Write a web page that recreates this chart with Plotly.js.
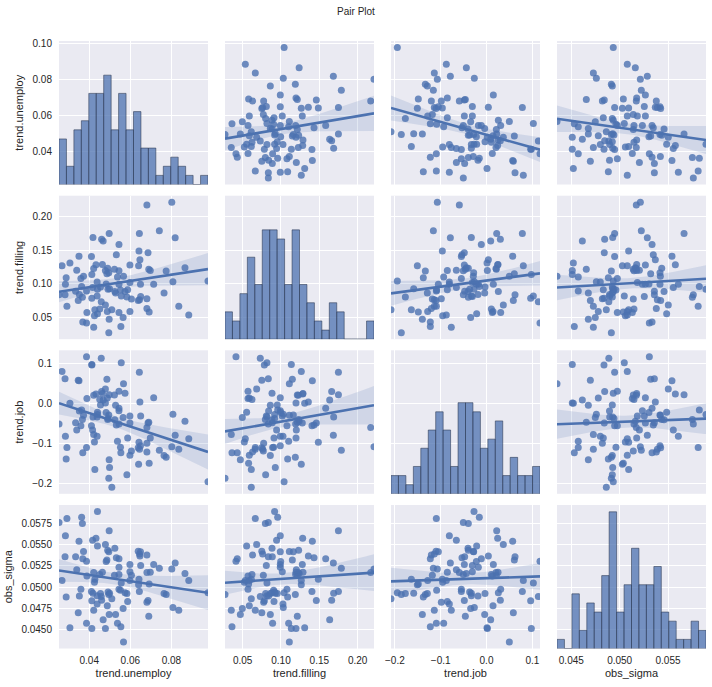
<!DOCTYPE html>
<html>
<head>
<meta charset="utf-8">
<script src="https://cdn.plot.ly/plotly-3.0.1.min.js"></script>
<style>
html,body{margin:0;padding:0;background:#ffffff;}
#chart{width:712px;height:687px;}
</style>
</head>
<body>
<div id="chart"></div>
<script>
// ---------------- data ----------------
const variables = ["trend.unemploy", "trend.filling", "trend.job", "obs_sigma"];

const trendUnemploy = [
0.09780,0.08844,0.08660,0.08358,0.08183,0.08073,0.08018,0.07743,0.07642,0.07412,
0.07137,0.06972,0.06917,0.06898,0.06862,0.06807,0.06440,0.06421,0.06467,0.06403,
0.06495,0.06504,0.06807,0.06449,0.06385,0.06807,0.06054,0.05981,0.05981,0.05981,
0.05871,0.05834,0.05742,0.05669,0.05650,0.05559,0.05540,0.05522,0.05448,0.05448,
0.05448,0.05448,0.05375,0.05320,0.05283,0.05228,0.05100,0.04990,0.04971,0.04971,
0.04953,0.04953,0.04898,0.04880,0.04861,0.04788,0.04788,0.04678,0.04641,0.04604,
0.04586,0.04549,0.04402,0.04402,0.04384,0.04329,0.04274,0.04255,0.04219,0.04219,
0.04164,0.04127,0.04127,0.04109,0.04384,0.03888,0.03870,0.03870,0.03723,0.03687,
0.03668,0.03631,0.03595,0.03521,0.03503,0.03466,0.03393,0.03338,0.03062,0.02916,
0.02879,0.02842,0.02824,0.02677,0.02530,0.05247,0.04916,0.04824,0.04512,0.04182
];

const trendFilling = [
0.1041,0.0535,0.1237,0.0665,0.1683,0.1030,0.2213,0.1187,0.0861,0.1787,
0.0991,0.1196,0.0578,0.1213,0.1461,0.2170,0.1749,0.1487,0.1357,0.1265,
0.0991,0.0809,0.0774,0.0761,0.0750,0.0630,0.0770,0.0587,0.1017,0.1278,
0.0909,0.0800,0.0883,0.1109,0.0496,0.0817,0.0361,0.0904,0.0570,0.0991,
0.1191,0.1583,0.1100,0.1431,0.0861,0.1213,0.0613,0.0926,0.0470,0.1749,
0.0270,0.1161,0.1230,0.0587,0.1148,0.0683,0.1196,0.1635,0.1287,0.1661,
0.0730,0.0952,0.0917,0.0552,0.1026,0.1283,0.0613,0.0522,0.0352,0.1226,
0.0943,0.0783,0.1135,0.1404,0.0817,0.0570,0.0413,0.0891,0.1109,0.0430,
0.0796,0.0957,0.1078,0.0839,0.1409,0.0750,0.1200,0.0887,0.1309,0.0665,
0.1087,0.0991,0.0835,0.1265,0.0835,0.0883,0.0917,0.0996,0.0622,0.1687
];

const trendJob = [
-0.1946,-0.0877,-0.0440,-0.1139,-0.0789,-0.0266,-0.1073,-0.1335,-0.1291,-0.1160,
0.0149,-0.0855,-0.1488,-0.0462,-0.0484,-0.0593,0.0782,-0.0964,0.0040,-0.1509,
-0.1051,-0.0309,-0.0986,-0.1139,-0.1102,-0.1204,-0.1182,-0.1284,-0.0309,-0.0484,
-0.0855,-0.1771,0.0258,0.0498,-0.0346,0.1022,-0.1226,-0.1088,0.0309,-0.0178,
-0.0506,-0.0113,-0.0935,-0.0535,-0.0040,0.0214,-0.2084,-0.1589,-0.1400,0.0222,
-0.1859,-0.0280,-0.0397,0.0142,0.0607,0.0367,0.0018,0.0091,0.0251,0.0302,
0.1131,-0.0033,-0.0273,-0.0215,-0.0811,0.0243,-0.1640,-0.0957,-0.0768,0.0207,
-0.0658,0.0963,0.0978,-0.0549,-0.0331,0.0127,0.1167,-0.1095,-0.0288,-0.1226,
-0.0397,-0.0157,-0.0549,-0.0186,0.0571,0.0585,-0.0658,-0.0477,0.0011,-0.1095,
-0.1379,-0.0811,0.0622,0.0803,-0.0506,-0.0404,-0.0368,-0.0222,0.0105,-0.0331
];

const obsSigma = [
0.04934,0.05079,0.05162,0.04728,0.05286,0.04759,0.05214,0.04914,0.04924,0.05224,
0.05266,0.05176,0.05038,0.04655,0.04841,0.05172,0.04948,0.05093,0.05369,0.05028,
0.05417,0.05255,0.04821,0.05390,0.05424,0.05379,0.05141,0.05079,0.05183,0.05266,
0.04831,0.04924,0.04934,0.04352,0.04748,0.05048,0.04531,0.04962,0.04976,0.05235,
0.05148,0.05335,0.04572,0.05348,0.04676,0.05141,0.04862,0.04928,0.04676,0.05666,
0.04914,0.05417,0.05435,0.04779,0.05321,0.05503,0.04510,0.04614,0.05176,0.04845,
0.04888,0.04924,0.05893,0.05486,0.04800,0.05576,0.05093,0.05059,0.04728,0.05172,
0.05555,0.04838,0.04510,0.04948,0.04897,0.05131,0.05307,0.04572,0.05421,0.05335,
0.05752,0.05824,0.04976,0.04895,0.05541,0.04697,0.05204,0.05359,0.04521,0.05812,
0.04883,0.05607,0.05359,0.05079,0.05762,0.05459,0.04941,0.05303,0.05148,0.04928
];

// tick values and labels
const xTickVals = [[0.04,0.06,0.08],[0.05,0.10,0.15,0.20],[-0.2,-0.1,0.0,0.1],[0.045,0.050,0.055]];
const xTickText = [["0.04","0.06","0.08"],["0.05","0.10","0.15","0.20"],["\u22120.2","\u22120.1","0.0","0.1"],["0.045","0.050","0.055"]];
const yTickVals = [[0.04,0.06,0.08,0.10],[0.05,0.10,0.15,0.20],[-0.2,-0.1,0.0,0.1],[0.0450,0.0475,0.0500,0.0525,0.0550,0.0575]];
const yTickText = [["0.04","0.06","0.08","0.10"],["0.05","0.10","0.15","0.20"],["\u22120.2","\u22120.1","0.0","0.1"],["0.0450","0.0475","0.0500","0.0525","0.0550","0.0575"]];
const nBins = 20;

// ---------------- layout geometry & style ----------------
const W = 712, H = 687;
const colLeft = [59, 225, 391, 557], panelW = 149;
const rowTop = [41, 195.7, 350.3, 505], panelH = 143.5;
const fontFamily = "Liberation Sans, Arial, Helvetica, sans-serif";
const textColor = "#262626";
const pointColor = "rgba(76,114,176,0.8)";
const lineColor = "#4C72B0";
const bandColor = "rgba(76,114,176,0.16)";
const barColor = "rgba(76,114,176,0.75)";
const barEdge = "rgba(40,52,78,0.55)";

const cols = [trendUnemploy, trendFilling, trendJob, obsSigma];
const mins = cols.map(a => Math.min(...a));
const maxs = cols.map(a => Math.max(...a));

function mean(a){ return a.reduce((s,v)=>s+v,0)/a.length; }

function histogram(a, lo, hi){
  const w = (hi - lo) / nBins;
  const counts = new Array(nBins).fill(0);
  a.forEach(v => { let i = Math.floor((v - lo) / w); if (i >= nBins) i = nBins - 1; if (i < 0) i = 0; counts[i]++; });
  const centers = counts.map((_, i) => lo + w * (i + 0.5));
  return {counts, centers, w};
}

function regression(x, y, lo, hi){
  const n = x.length, mx = mean(x), my = mean(y);
  let sxx = 0, sxy = 0;
  for (let i = 0; i < n; i++){ sxx += (x[i]-mx)*(x[i]-mx); sxy += (x[i]-mx)*(y[i]-my); }
  const b = sxy / sxx, a = my - b * mx;
  let sse = 0;
  for (let i = 0; i < n; i++){ const r = y[i] - (a + b*x[i]); sse += r*r; }
  const s = Math.sqrt(sse / (n - 2));
  const t = 1.984;
  const xs = [], yh = [], up = [], dn = [];
  for (let k = 0; k < 100; k++){
    const xv = lo + (hi - lo) * k / 99;
    const yv = a + b * xv;
    const se = s * Math.sqrt(1/n + (xv-mx)*(xv-mx)/sxx);
    xs.push(xv); yh.push(yv); up.push(yv + t*se); dn.push(yv - t*se);
  }
  return {xs, yh, up, dn};
}

const hists = cols.map((a, i) => histogram(a, mins[i], maxs[i]));
const maxCount = Math.max(...hists.map(h => Math.max(...h.counts)));
const diagTop = maxCount * 1.05;

const traces = [];
const layout = {
  width: W, height: H,
  margin: {l: 0, r: 0, t: 0, b: 0},
  paper_bgcolor: "#ffffff",
  plot_bgcolor: "#EAEAF2",
  showlegend: false,
  font: {family: fontFamily, color: textColor, size: 10},
  title: {text: "Pair Plot", font: {family: fontFamily, size: 10, color: textColor},
          x: 0.5, xanchor: "center", y: 1 - 11/H, yanchor: "middle"}
};

for (let r = 0; r < 4; r++){
  for (let c = 0; c < 4; c++){
    const p = r * 4 + c + 1;
    const sfx = p === 1 ? "" : String(p);
    const xa = "x" + sfx, ya = "y" + sfx;
    const padY = 0.05 * (maxs[r] - mins[r]);
    const yLo = mins[r] - padY, yHi = maxs[r] + padY;
    layout["xaxis" + sfx] = {
      domain: [colLeft[c] / W, (colLeft[c] + panelW) / W],
      anchor: ya,
      range: [mins[c], maxs[c]],
      tickmode: "array", tickvals: xTickVals[c], ticktext: xTickText[c],
      showticklabels: r === 3,
      ticks: "", ticklabelstandoff: 4,
      tickfont: {size: 10, color: textColor, family: fontFamily},
      showgrid: true, gridcolor: "#ffffff", gridwidth: 1,
      zeroline: false, showline: false, automargin: false,
      title: r === 3 ? {text: variables[c], font: {size: 11, color: textColor, family: fontFamily}, standoff: 4} : {text: ""}
    };
    // diagonal panels: the y axis counts the histogram, its grid lines sit where the row variable's ticks are
    const isDiag = r === c;
    const yTickPos = isDiag
      ? yTickVals[r].map(v => (v - yLo) / (yHi - yLo) * diagTop)
      : yTickVals[r];
    layout["yaxis" + sfx] = {
      domain: [1 - (rowTop[r] + panelH) / H, 1 - rowTop[r] / H],
      anchor: xa,
      range: isDiag ? [0, diagTop] : [yLo, yHi],
      tickmode: "array", tickvals: yTickPos, ticktext: yTickText[r],
      showticklabels: c === 0,
      ticks: "", ticklabelstandoff: 6,
      tickfont: {size: 10, color: textColor, family: fontFamily},
      showgrid: true, gridcolor: "#ffffff", gridwidth: 1,
      zeroline: false, showline: false, automargin: false,
      title: c === 0 ? {text: variables[r], font: {size: 11, color: textColor, family: fontFamily}, standoff: 6} : {text: ""}
    };

    if (isDiag){
      const h = hists[c];
      traces.push({
        type: "bar", x: h.centers, y: h.counts, width: h.centers.map(() => h.w),
        xaxis: xa, yaxis: ya,
        marker: {color: barColor, line: {color: barEdge, width: 1}},
        hoverinfo: "skip"
      });
    } else {
      const xv = cols[c], yv = cols[r];
      traces.push({
        type: "scatter", mode: "markers", x: xv, y: yv, xaxis: xa, yaxis: ya,
        marker: {size: 7, color: pointColor, line: {width: 0}},
        hoverinfo: "skip"
      });
      const fit = regression(xv, yv, mins[c], maxs[c]);
      traces.push({
        type: "scatter", mode: "lines",
        x: fit.xs.concat(fit.xs.slice().reverse()),
        y: fit.up.concat(fit.dn.slice().reverse()),
        fill: "toself", fillcolor: bandColor, line: {width: 0, color: "rgba(0,0,0,0)"},
        xaxis: xa, yaxis: ya, hoverinfo: "skip"
      });
      traces.push({
        type: "scatter", mode: "lines", x: fit.xs, y: fit.yh,
        line: {color: lineColor, width: 2.6},
        xaxis: xa, yaxis: ya, hoverinfo: "skip"
      });
    }
  }
}

Plotly.newPlot("chart", traces, layout, {displayModeBar: false, staticPlot: true});
</script>
</body>
</html>
